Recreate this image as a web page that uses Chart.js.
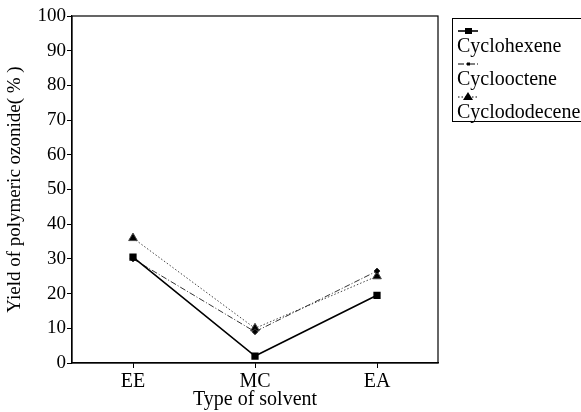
<!DOCTYPE html>
<html>
<head>
<meta charset="utf-8">
<script src="https://cdn.jsdelivr.net/npm/chart.js@4.4.1/dist/chart.umd.min.js"></script>
<style>
  html, body { margin: 0; padding: 0; background: #fff; }
  #wrap { width: 581px; height: 412px; }
</style>
</head>
<body>
<div id="wrap"><canvas id="chart" width="581" height="412"></canvas></div>
<script>
const solvents = ["EE", "MC", "EA"];
const cyclohexene = [30.5, 2, 19.5];
const cyclooctene = [30, 9, 26.5];
const cyclododecene = [36, 10, 25];
const yTicks = [0, 10, 20, 30, 40, 50, 60, 70, 80, 90, 100];

const serif = "'Liberation Serif', 'DejaVu Serif', serif";

// frame round the plot plus the legend box (sample line above each label)
const framePlugin = {
  id: "frame",
  afterDraw(chart) {
    const c = chart.ctx;
    const a = chart.chartArea;
    c.save();
    c.strokeStyle = "#000";
    c.lineWidth = 1.2;
    c.strokeRect(a.left, a.top, a.right - a.left, a.bottom - a.top);

    c.lineWidth = 1;
    c.strokeRect(452.5, 18.5, 140, 103);
    c.font = "20px " + serif;
    c.fillStyle = "#000";
    c.textBaseline = "alphabetic";
    chart.data.datasets.forEach((ds, i) => {
      const y = 31 + i * 33;
      c.beginPath();
      c.setLineDash(ds.borderDash || []);
      c.lineWidth = ds.borderWidth;
      c.moveTo(458, y);
      c.lineTo(478, y);
      c.stroke();
      c.setLineDash([]);
      if (ds.pointStyle === "rect") {
        c.fillRect(465, y - 3, 7, 6);
      } else if (ds.pointStyle === "triangle") {
        c.beginPath();
        c.moveTo(468, y - 5);
        c.lineTo(473, y + 3);
        c.lineTo(463, y + 3);
        c.closePath();
        c.fill();
      } else {
        c.fillRect(467, y - 1.5, 3, 3);
      }
      c.fillText(ds.label, 457, y + 21);
    });
    c.restore();
  }
};

new Chart(document.getElementById("chart"), {
  type: "line",
  data: {
    labels: solvents,
    datasets: [
      {
        label: "Cyclohexene",
        data: cyclohexene,
        borderColor: "#000",
        backgroundColor: "#000",
        borderWidth: 1.6,
        pointStyle: "rect",
        pointRadius: 4,
      },
      {
        label: "Cyclooctene",
        data: cyclooctene,
        borderColor: "#333",
        backgroundColor: "#000",
        borderWidth: 1,
        borderDash: [6, 2, 1, 2],
        pointStyle: "rectRot",
        pointRadius: 3,
      },
      {
        label: "Cyclododecene",
        data: cyclododecene,
        borderColor: "#444",
        backgroundColor: "#000",
        borderWidth: 1,
        borderDash: [1.5, 2],
        pointStyle: "triangle",
        pointRadius: 5,
      },
    ],
  },
  options: {
    animation: false,
    responsive: false,
    layout: { padding: { top: 16, right: 143, left: 0, bottom: 0 } },
    plugins: {
      legend: { display: false },
      tooltip: { enabled: false },
    },
    scales: {
      x: {
        offset: true,
        grid: { drawOnChartArea: false, drawTicks: true, tickLength: 5, color: "#000" },
        border: { color: "#000", width: 1.2 },
        ticks: { color: "#000", font: { family: serif, size: 20 }, padding: 2 },
        title: {
          display: true,
          text: "Type of solvent",
          color: "#000",
          font: { family: serif, size: 20 },
          padding: { top: 0, bottom: 0 },
        },
        afterFit(scale) { scale.height = 49; },
      },
      y: {
        min: 0,
        max: 100,
        afterBuildTicks(scale) { scale.ticks = yTicks.map(v => ({ value: v })); },
        grid: { drawOnChartArea: false, drawTicks: true, tickLength: 5, color: "#000" },
        border: { color: "#000", width: 1.2 },
        ticks: { color: "#000", font: { family: serif, size: 19 }, padding: 1 },
        title: {
          display: true,
          text: "Yield of polymeric ozonide( % )",
          color: "#000",
          font: { family: serif, size: 19 },
          padding: { bottom: 2 },
        },
        afterFit(scale) { scale.width = 72; },
      },
    },
  },
  plugins: [framePlugin],
});
</script>
</body>
</html>
